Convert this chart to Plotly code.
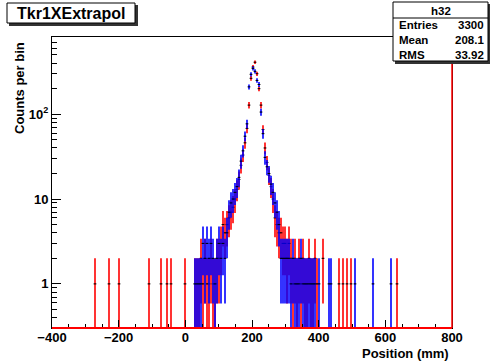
import numpy as np
import plotly.graph_objects as go

# Binning of the extrapolated tracker position histograms (mm)
bin_width = 6.0
x_range = [-400, 800]

# Red histogram: bin centres (mm) and counts
red_pos = [-271, -229, -199, -109, -73, -55, -43, -1,
           29, 35, 41, 47, 53, 59, 65, 71, 77, 83, 89, 95, 101, 107, 113, 119,
           125, 131, 137, 143, 149, 155, 161, 167, 173, 179, 185, 191, 197, 203,
           209, 215, 221, 227, 233, 239, 245, 251, 257, 263, 269, 275, 281, 287,
           293, 299, 305, 311, 317, 323, 329, 335, 341, 347, 353, 359, 365, 371,
           377, 383, 389, 395, 413, 461, 473, 485, 497, 635]
red_counts = [1, 1, 1, 1, 1, 1, 1, 1,
              1, 1, 1, 2, 1, 2, 1, 1, 2, 1, 1, 2, 2, 3, 5, 4,
              5, 6, 7, 8, 10, 13, 17, 25, 33, 46, 68, 128, 265, 360,
              410, 300, 200, 128, 66, 40, 27, 19, 14, 10, 6, 5, 4, 4,
              3, 3, 2, 3, 2, 1, 2, 1, 2, 1, 2, 1, 1, 2,
              1, 1, 2, 1, 2, 1, 1, 1, 1, 1]

# Blue histogram: bin centres (mm) and counts
blue_pos = [29, 35, 41, 47, 53, 59, 65, 71, 77, 83, 89, 95, 101, 107, 113, 119,
            125, 131, 137, 143, 149, 155, 161, 167, 173, 179, 185, 191, 197, 203,
            209, 215, 221, 227, 233, 239, 245, 251, 257, 263, 269, 275, 281, 287,
            293, 299, 305, 311, 317, 323, 329, 335, 341, 347, 353, 359, 365, 371,
            377, 383, 389, 401, 431, 437, 509, 563, 617]
blue_counts = [1, 1, 1, 1, 3, 2, 3, 2, 3, 2, 1, 2, 3, 2, 3, 2,
               4, 7, 9, 10, 12, 14, 18, 28, 37, 55, 77, 210, 295, 347,
               320, 250, 224, 106, 59, 31, 24, 20, 15, 12, 9, 7, 5, 2,
               2, 2, 2, 2, 1, 2, 1, 1, 1, 2, 1, 1, 1, 1,
               1, 1, 1, 1, 1, 1, 1, 1, 1]

# Statistics box contents
stats_name = "h32"
stats_labels = ["Entries", "Mean", "RMS"]
stats_values = ["3300", "208.1", "33.92"]

hist_title = "Tkr1XExtrapol"
x_title = "Position (mm)"
y_title = "Counts per bin"

FONT = "Liberation Sans, Arial, Helvetica, sans-serif"
Y_LOG_RANGE = [-0.52, 2.91]


def hist_trace(pos, counts, color):
    n = np.asarray(counts, dtype=float)
    err = np.sqrt(n)
    # lower bars end just below the visible log range when they reach zero
    err_lo = np.minimum(err, n - 0.05)
    return go.Scatter(
        x=pos, y=n, mode="markers",
        marker=dict(symbol="line-ew", size=2, color="black",
                    line=dict(color="black", width=1)),
        error_y=dict(type="data", array=err, arrayminus=err_lo, symmetric=False,
                     color=color, thickness=1.6, width=0),
        error_x=dict(type="constant", value=bin_width / 2, color=color,
                     thickness=1, width=0),
        showlegend=False, hoverinfo="skip",
    )


fig = go.Figure()
fig.add_trace(hist_trace(red_pos, red_counts, "#ff0000"))
fig.add_trace(hist_trace(blue_pos, blue_counts, "#0000ff"))

tick_font = dict(family=FONT, size=13, color="black", weight="bold")

minor_y = [v * d for d in (0.1, 1, 10, 100) for v in range(2, 10)]
minor_y = [v for v in minor_y if 0.3 <= v <= 800]

fig.update_layout(
    width=490, height=361,
    margin=dict(l=52, r=38, t=37, b=33),
    paper_bgcolor="white", plot_bgcolor="white",
    xaxis=dict(
        range=x_range, showgrid=False, zeroline=False,
        showline=True, linecolor="black", linewidth=1, mirror=True,
        ticks="inside", ticklen=8, tickcolor="black", tickwidth=1,
        tick0=-400, dtick=200, tickfont=tick_font, ticklabelstandoff=-3,
        minor=dict(ticks="inside", ticklen=4, dtick=50, tickcolor="black", tickwidth=1),
    ),
    yaxis=dict(
        type="log", range=Y_LOG_RANGE, showgrid=False, zeroline=False,
        showline=True, linecolor="black", linewidth=1, mirror=True,
        ticks="inside", ticklen=9, tickcolor="black", tickwidth=1,
        tickvals=[1, 10, 100], ticktext=["1", "10", "10<sup>2</sup>"],
        tickfont=tick_font,
        minor=dict(ticks="inside", ticklen=5, tickvals=minor_y,
                   tickcolor="black", tickwidth=1),
    ),
)

shapes = [
    # red histogram baseline and right edge
    dict(type="line", xref="paper", yref="paper", x0=0, x1=1, y0=0, y1=0,
         line=dict(color="#ff0000", width=2), layer="above"),
    dict(type="line", xref="paper", yref="paper", x0=1, x1=1, y0=0, y1=1,
         line=dict(color="#ff0000", width=1.5), layer="above"),
]


def px_x(x):
    return (x - 52) / 400


def px_y(y):
    return (328 - y) / 291


def px_rect(x0, y0, x1, y1, **kw):
    return dict(type="rect", xref="paper", yref="paper",
                x0=px_x(x0), x1=px_x(x1), y0=px_y(y1), y1=px_y(y0),
                layer="above", **kw)


# title box with shadow
shapes.append(px_rect(9, 5, 138, 26, fillcolor="#333333", line=dict(width=0)))
shapes.append(px_rect(7, 3, 135, 23, fillcolor="white", line=dict(color="black", width=1)))
# statistics box with shadow
shapes.append(px_rect(395, 4, 491, 64, fillcolor="#333333", line=dict(width=0)))
shapes.append(px_rect(393, 2, 488, 61, fillcolor="white", line=dict(color="black", width=1)))
shapes.append(dict(type="line", xref="paper", yref="paper",
                   x0=px_x(393), x1=px_x(488), y0=px_y(18), y1=px_y(18),
                   line=dict(color="black", width=1), layer="above"))
fig.update_layout(shapes=shapes)

bold = dict(family=FONT, color="black", weight="bold")
annotations = [
    dict(text=hist_title, x=px_x(71), y=px_y(13.5), xanchor="center", yanchor="middle",
         font=dict(size=16, **bold)),
    dict(text=stats_name, x=px_x(440.5), y=px_y(10.5), xanchor="center", yanchor="middle",
         font=dict(size=11.5, **bold)),
    dict(text=x_title, x=px_x(451), y=px_y(353), xanchor="right", yanchor="middle",
         font=dict(size=13, **bold)),
    dict(text=y_title, x=px_x(20), y=px_y(40), xanchor="center", yanchor="top",
         textangle=-90, font=dict(size=13, **bold)),
]
for i, (lab, val) in enumerate(zip(stats_labels, stats_values)):
    yy = 25.5 + i * 14.5
    annotations.append(dict(text=lab, x=px_x(397), y=px_y(yy), xanchor="left",
                            yanchor="middle", font=dict(size=11.5, **bold)))
    annotations.append(dict(text=val, x=px_x(486), y=px_y(yy), xanchor="right",
                            yanchor="middle", font=dict(size=11.5, **bold)))
for a in annotations:
    a.update(xref="paper", yref="paper", showarrow=False)
fig.update_layout(annotations=annotations)

fig.write_html("out.html")
